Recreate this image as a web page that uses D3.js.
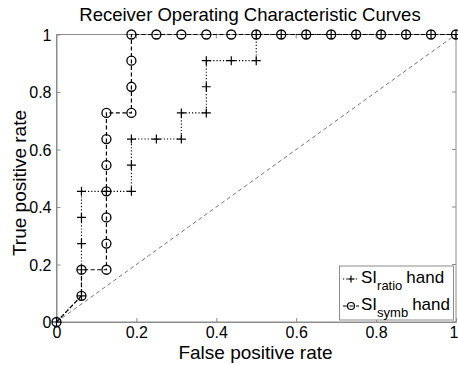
<!DOCTYPE html>
<html>
<head>
<meta charset="utf-8">
<script src="https://cdn.jsdelivr.net/npm/d3@7"></script>
<style>
  html, body { margin: 0; padding: 0; background: #fff; }
  svg { display: block; font-family: "Liberation Sans", Arial, sans-serif; }
</style>
</head>
<body>
<svg id="chart" width="458" height="365"></svg>
<script>
// ROC points (false positive rate, true positive rate) for each classifier
const ratioFPR = [0, 0.0625, 0.0625, 0.0625, 0.0625, 0.0625, 0.125, 0.1875, 0.1875, 0.1875, 0.25, 0.3125, 0.3125, 0.375, 0.375, 0.375, 0.4375, 0.5, 0.5, 0.5625, 0.625, 0.6875, 0.75, 0.8125, 0.875, 0.9375, 1];
const ratioTPR = [0, 0.0909, 0.1818, 0.2727, 0.3636, 0.4545, 0.4545, 0.4545, 0.5455, 0.6364, 0.6364, 0.6364, 0.7273, 0.7273, 0.8182, 0.9091, 0.9091, 0.9091, 1, 1, 1, 1, 1, 1, 1, 1, 1];
const symbFPR = [0, 0.0625, 0.0625, 0.125, 0.125, 0.125, 0.125, 0.125, 0.125, 0.125, 0.1875, 0.1875, 0.1875, 0.1875, 0.25, 0.3125, 0.375, 0.4375, 0.5, 0.5625, 0.625, 0.6875, 0.75, 0.8125, 0.875, 0.9375, 1];
const symbTPR = [0, 0.0909, 0.1818, 0.1818, 0.2727, 0.3636, 0.4545, 0.5455, 0.6364, 0.7273, 0.7273, 0.8182, 0.9091, 1, 1, 1, 1, 1, 1, 1, 1, 1, 1, 1, 1, 1, 1];
const tickValues = [0, 0.2, 0.4, 0.6, 0.8, 1];
const tickLabels = ["0", "0.2", "0.4", "0.6", "0.8", "1"];
const chanceLine = [0, 1];

const svg = d3.select("#chart");
const plotL = 56.5, plotR = 456, plotT = 34.5, plotB = 322;
const x = d3.scaleLinear().domain([0, 1]).range([plotL, plotR]);
const y = d3.scaleLinear().domain([0, 1]).range([plotB, plotT]);
const axisColor = "#8c8c8c";

// Frame
svg.append("rect")
  .attr("x", plotL).attr("y", plotT)
  .attr("width", plotR - plotL).attr("height", plotB - plotT)
  .attr("fill", "none").attr("stroke", axisColor).attr("stroke-width", 1);

// Axes (ticks pointing inward)
const xAxis = d3.axisBottom(x).tickValues(tickValues)
  .tickFormat((d, i) => tickLabels[i]).tickSizeInner(-4).tickSizeOuter(0).tickPadding(4.5);
const yAxis = d3.axisLeft(y).tickValues(tickValues)
  .tickFormat((d, i) => tickLabels[i]).tickSizeInner(-4).tickSizeOuter(0).tickPadding(5);

const gx = svg.append("g").attr("transform", `translate(0,${plotB})`).call(xAxis);
const gy = svg.append("g").attr("transform", `translate(${plotL},0)`).call(yAxis);
[gx, gy].forEach(g => {
  g.select(".domain").attr("stroke", axisColor);
  g.selectAll(".tick line").attr("stroke", axisColor);
  g.selectAll(".tick text").attr("fill", "#000").style("font-size", "16px")
    .style("font-family", "'Liberation Sans', Arial, sans-serif");
});
gx.selectAll(".tick text").attr("dy", "0.71em");
// keep the last x label inside the canvas edge
gx.selectAll(".tick text").filter(d => d === 1).attr("dx", -2.5);
gy.selectAll(".tick text").attr("dy", "0.35em");

// Top and right tick marks
svg.append("g").selectAll("line").data(tickValues).join("line")
  .attr("x1", d => x(d)).attr("x2", d => x(d))
  .attr("y1", plotT).attr("y2", plotT + 4).attr("stroke", axisColor);
svg.append("g").selectAll("line").data(tickValues).join("line")
  .attr("x1", plotR).attr("x2", plotR - 4)
  .attr("y1", d => y(d)).attr("y2", d => y(d)).attr("stroke", axisColor);

// Chance diagonal
svg.append("line")
  .attr("x1", x(chanceLine[0])).attr("y1", y(chanceLine[0]))
  .attr("x2", x(chanceLine[1])).attr("y2", y(chanceLine[1]))
  .attr("stroke", "#666").attr("stroke-width", 0.9).attr("stroke-dasharray", "4,3");

const line = d3.line().x(d => x(d[0])).y(d => y(d[1]));
const ratioPts = ratioFPR.map((v, i) => [v, ratioTPR[i]]);
const symbPts = symbFPR.map((v, i) => [v, symbTPR[i]]);

// SI_ratio: dotted line, plus markers
svg.append("path").datum(ratioPts).attr("d", line)
  .attr("fill", "none").attr("stroke", "#000").attr("stroke-width", 1.1)
  .attr("stroke-dasharray", "1.2,2");
svg.append("g").selectAll("path").data(ratioPts).join("path")
  .attr("transform", d => `translate(${x(d[0])},${y(d[1])})`)
  .attr("d", "M-4.5,0H4.5M0,-4.5V4.5")
  .attr("stroke", "#000").attr("stroke-width", 1.2);

// SI_symb: dashed line, circle markers
svg.append("path").datum(symbPts).attr("d", line)
  .attr("fill", "none").attr("stroke", "#000").attr("stroke-width", 1.2)
  .attr("stroke-dasharray", "4,2.5");
svg.append("g").selectAll("circle").data(symbPts).join("circle")
  .attr("cx", d => x(d[0])).attr("cy", d => y(d[1])).attr("r", 4.5)
  .attr("fill", "none").attr("stroke", "#000").attr("stroke-width", 1.3);

// Title and axis labels
svg.append("text").attr("x", 250).attr("y", 21).attr("text-anchor", "middle")
  .style("font-size", "18.5px").text("Receiver Operating Characteristic Curves");
svg.append("text").attr("x", 255.5).attr("y", 359).attr("text-anchor", "middle")
  .style("font-size", "19px").text("False positive rate");
svg.append("text").attr("transform", "translate(25.5,183) rotate(-90)").attr("text-anchor", "middle")
  .style("font-size", "19px").text("True positive rate");

// Legend
const legend = svg.append("g");
legend.append("rect").attr("x", 339.5).attr("y", 266).attr("width", 114).attr("height", 54)
  .attr("fill", "#fff").attr("stroke", axisColor);
const entries = [
  { sub: "ratio", dash: "1.2,2", marker: "plus", yy: 279 },
  { sub: "symb", dash: "4,2.5", marker: "circle", yy: 306 }
];
entries.forEach(e => {
  legend.append("line").attr("x1", 343).attr("x2", 359).attr("y1", e.yy).attr("y2", e.yy)
    .attr("stroke", "#000").attr("stroke-width", 1.1).attr("stroke-dasharray", e.dash);
  if (e.marker === "plus") {
    legend.append("path").attr("transform", `translate(351,${e.yy})`)
      .attr("d", "M-3.5,0H3.5M0,-3.5V3.5").attr("stroke", "#000").attr("stroke-width", 1.2);
  } else {
    legend.append("circle").attr("cx", 351).attr("cy", e.yy).attr("r", 3.5)
      .attr("fill", "none").attr("stroke", "#000").attr("stroke-width", 1.2);
  }
  const t = legend.append("text").attr("x", 361).attr("y", e.yy + 4).style("font-size", "17px");
  t.append("tspan").text("SI");
  t.append("tspan").attr("dy", 7).style("font-size", "13px").text(e.sub);
  t.append("tspan").attr("dy", -7).attr("dx", 4).text("hand");
});
</script>
</body>
</html>
